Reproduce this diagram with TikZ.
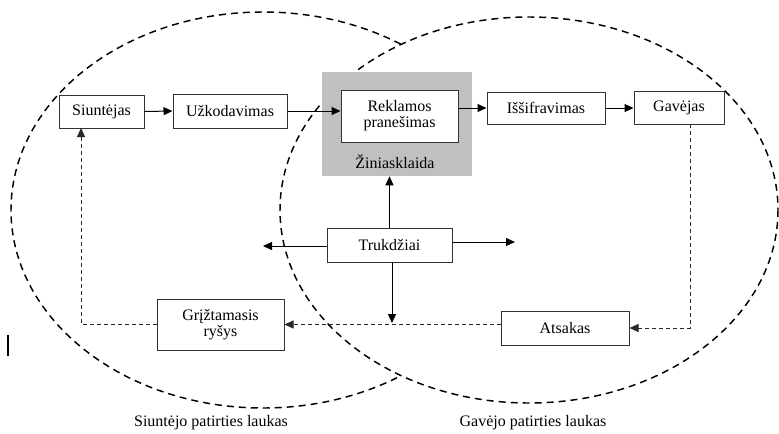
\documentclass[tikz,border=0pt]{standalone}
\usepackage{fontspec}
\setmainfont{Liberation Serif}
\usetikzlibrary{arrows.meta}
\definecolor{mediagray}{RGB}{192,192,192}
\definecolor{linegray}{RGB}{40,40,40}
\tikzset{
  sz/.style 2 args={minimum width=#1*0.75pt, minimum height=#2*0.75pt},
  box/.style={draw=black!80, line width=0.75pt, fill=white, inner sep=0pt, align=center,
              font=\fontsize{12pt}{14pt}\selectfont},
  flow/.style={line width=0.75pt, -{Triangle[length=6.75pt, width=6pt]}},
  back/.style={line width=0.75pt, draw=linegray, dash pattern=on 3pt off 2.25pt,
               -{Triangle[length=6.75pt, width=6pt]}},
  field/.style={line width=1.1pt, dash pattern=on 5.25pt off 3.75pt},
  lbl/.style={font=\fontsize{12pt}{14pt}\selectfont, inner sep=0pt}
}
\begin{document}
\begin{tikzpicture}[x=0.75pt, y=-0.75pt]
\useasboundingbox (0,0) rectangle (779,433);

% fields of experience: receiver's field complete, sender's field stops where it meets it
\draw[field] (529,210) ellipse (249 and 193);
\begin{scope}[even odd rule]
  \clip (-20,-20) rectangle (800,450)
        (529,210) ellipse (249 and 193);
  \draw[field] (263,210) ellipse (252 and 198);
\end{scope}

% media block with the message inside
\node[fill=mediagray, sz={150}{104}, inner sep=0pt] (media) at (397,124) {};
\node[box, sz={117}{52}] (rek) at (399.5,116) {Reklamos\\[-2pt]pranešimas};
\node[lbl] (zin) at (395,162) {Žiniasklaida};

% main chain
\node[box, sz={85}{33}] (siu) at (101.5,111.5) {Siuntėjas};
\node[box, sz={114}{34}] (uzk) at (230,111) {Užkodavimas};
\node[box, sz={118}{32}] (iss) at (546,108) {Iššifravimas};
\node[box, sz={90}{33}] (gav) at (679,107.5) {Gavėjas};

% noise and feedback
\node[box, sz={125}{34}] (truk) at (389.5,245) {Trukdžiai};
\node[box, sz={127}{51}] (grz) at (220.5,324.5) {Grįžtamasis\\[-2pt]ryšys};
\node[box, sz={128}{34}] (ats) at (565,328) {Atsakas};

% free ends of the connectors
\coordinate (noiseL) at (263,246);
\coordinate (noiseR) at (515,242);
\coordinate (noiseD) at (392,323);
\coordinate (gavOut) at (690,124);
\coordinate (siuIn) at (81,128);

% forward flow
\draw[flow] (siu.east) -- (uzk.west);
\draw[flow] (uzk.east) -- (uzk.east -| rek.west);
\draw[flow] (rek.east |- iss.west) -- (iss.west);
\draw[flow] (iss.east) -- (iss.east -| gav.west);

% noise
\draw[flow] (truk.north) -- (media.south -| truk.north);
\draw[flow] (truk.west |- noiseL) -- (noiseL);
\draw[flow] (truk.east |- noiseR) -- (noiseR);
\draw[flow] (truk.south -| noiseD) -- (noiseD);

% feedback loop
\draw[back] (gavOut) |- (ats.east);
\draw[back] (ats.west |- grz.east) -- (grz.east);
\draw[back] (grz.west) -| (siuIn);

% stray vertical stroke at the lower left
\coordinate (barTop) at (8,335);
\coordinate (barBot) at (8,356);
\draw[line width=1.05pt] (barTop) -- (barBot);

% captions
\node[lbl] (capS) at (211,423) {Siuntėjo patirties laukas};
\node[lbl] (capG) at (533,423) {Gavėjo patirties laukas};
\end{tikzpicture}
\end{document}
